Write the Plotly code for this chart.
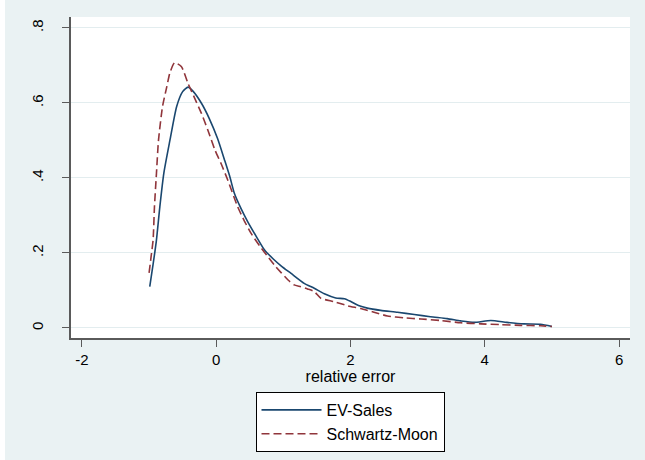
import plotly.graph_objects as go

# EV-Sales density
ev_x = [-0.99, -0.94, -0.89, -0.84, -0.78, -0.69, -0.59, -0.50, -0.42, -0.35, -0.22, -0.10,
        0.02, 0.12, 0.20, 0.27, 0.37, 0.47, 0.60, 0.72, 0.85, 0.97, 1.11, 1.31, 1.46, 1.61,
        1.78, 1.91, 2.01, 2.13, 2.25, 2.45, 2.70, 2.95, 3.19, 3.44, 3.64, 3.84, 4.09, 4.33,
        4.58, 4.83, 5.00]
ev_y = [0.110, 0.170, 0.235, 0.323, 0.413, 0.500, 0.590, 0.630, 0.642, 0.632, 0.599, 0.557,
        0.505, 0.450, 0.405, 0.359, 0.318, 0.283, 0.243, 0.208, 0.184, 0.165, 0.146, 0.119, 0.106, 0.091,
        0.080, 0.078, 0.070, 0.059, 0.053, 0.047, 0.042, 0.036, 0.030, 0.025, 0.019, 0.015, 0.020, 0.015,
        0.011, 0.010, 0.004]

# Schwartz-Moon density
sm_x = [-1.00, -0.97, -0.94, -0.92, -0.89, -0.86, -0.80, -0.74, -0.69, -0.62, -0.52, -0.42,
        -0.32, -0.22, -0.12, -0.02, 0.08, 0.17, 0.32, 0.42, 0.52, 0.65, 0.77, 0.87, 0.97, 1.07,
        1.16, 1.26, 1.36, 1.46, 1.56, 1.76, 1.96, 2.15, 2.35, 2.55, 2.80, 3.05, 3.34, 3.64,
        3.94, 4.23, 4.53, 4.83, 5.00]
sm_y = [0.147, 0.190, 0.235, 0.323, 0.413, 0.500, 0.590, 0.640, 0.680, 0.707, 0.697, 0.652,
        0.612, 0.572, 0.525, 0.475, 0.435, 0.395, 0.323, 0.285, 0.252, 0.218, 0.190, 0.167, 0.147, 0.128,
        0.115, 0.110, 0.104, 0.097, 0.079, 0.070, 0.059, 0.052, 0.042, 0.032, 0.027, 0.024, 0.020, 0.014,
        0.011, 0.009, 0.007, 0.006, 0.004]

x_ticks = [-2, 0, 2, 4, 6]
x_ticktext = ["-2", "0", "2", "4", "6"]
y_ticks = [0, 0.2, 0.4, 0.6, 0.8]
y_ticktext = ["0", ".2", ".4", ".6", ".8"]

BG = "#EAF2F3"
GRID = "#E3EDEF"
AXIS = "#5A5A5A"
FONT = "Liberation Sans, Arial, sans-serif"

fig = go.Figure()
fig.add_trace(go.Scatter(x=ev_x, y=ev_y, mode="lines", name="EV-Sales",
                         line=dict(color="#1A476F", width=1.6, shape="spline", smoothing=0.6)))
fig.add_trace(go.Scatter(x=sm_x, y=sm_y, mode="lines", name="Schwartz-Moon",
                         line=dict(color="#90353B", width=1.6, dash="8px,4px", shape="spline", smoothing=0.6)))

fig.update_layout(
    width=645, height=460,
    margin=dict(l=71, r=15, t=17, b=122, autoexpand=False),
    paper_bgcolor=BG, plot_bgcolor="white",
    font=dict(family=FONT, size=15, color="black"),
    showlegend=True,
    legend=dict(x=350/645, xanchor="center", xref="container",
                y=1 - 392/460, yanchor="top", yref="container", orientation="v",
                bgcolor="white", bordercolor="black", borderwidth=1,
                font=dict(size=16), itemwidth=60, tracegroupgap=0),
    xaxis=dict(range=[-2.163, 6.163], tickvals=x_ticks, ticktext=x_ticktext, showgrid=False,
               zeroline=False, showline=True, linecolor=AXIS, linewidth=1.5, ticks="outside",
               ticklen=7, tickcolor=AXIS, tickwidth=1.2, automargin=False,
               title=dict(text="relative error", standoff=3, font=dict(size=16))),
    yaxis=dict(range=[-0.0267, 0.829], tickvals=y_ticks, ticktext=y_ticktext, showgrid=True,
               gridcolor=GRID, gridwidth=1.2, zeroline=False, showline=True, linecolor=AXIS,
               linewidth=1.5, ticks="outside", ticklen=7, tickcolor=AXIS, tickwidth=1.2,
               tickangle=-90, ticklabelstandoff=13, automargin=False),
    shapes=[dict(type="rect", xref="paper", yref="paper", x0=-71/559, x1=-66/559,
                 y0=-122/321, y1=338/321, fillcolor="white", line=dict(width=0), layer="below")],
)

fig.write_html("out.html", config={"displayModeBar": False},
               post_script="document.body.style.margin='0';document.body.style.padding='0';")
